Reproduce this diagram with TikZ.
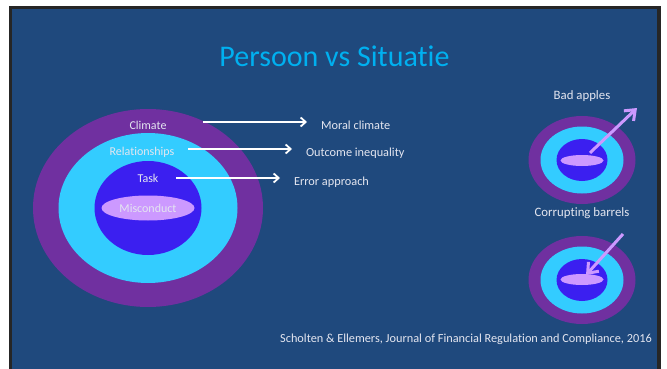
\documentclass[tikz,border=0pt]{standalone}
\usepackage{fontspec}
\setmainfont{Carlito}[Ligatures=NoCommon]
\usetikzlibrary{shapes.geometric,arrows.meta}
\definecolor{slideblue}{RGB}{31,73,125}
\definecolor{titlecyan}{RGB}{0,176,240}
\definecolor{climpurple}{RGB}{112,48,160}
\definecolor{relcyan}{RGB}{51,204,255}
\definecolor{taskblue}{RGB}{59,31,240}
\definecolor{misclav}{RGB}{204,153,255}
\definecolor{labelwhite}{RGB}{228,230,240}

\begin{document}
\begin{tikzpicture}[x=1pt, y=-1pt,
    ring/.style={ellipse, inner sep=0pt},
    lbl/.style={text=labelwhite, font=\fontsize{12}{14}\selectfont},
    note/.style={text=labelwhite, font=\fontsize{12.3}{14}\selectfont},
    whitearrow/.style={-{Straight Barb[length=5pt,width=9pt]}, line width=1.8pt, white},
    lavarrow/.style={-{Straight Barb[length=9pt,width=14pt]}, line width=3pt, misclav}]
    \useasboundingbox (0,0) rectangle (667,369);
    \fill[white] (0,0) rectangle (667,369);
    \fill[black!85] (9,6) rectangle (661,369);
    \fill[slideblue] (12,9) rectangle (657,369);

    \node[text=titlecyan, font=\fontsize{30}{34}\selectfont] (title) at (334.5,56) {Persoon vs Situatie};

    % big circles
    \node[ring, fill=climpurple, minimum width=230, minimum height=198] (climate) at (148,208) {};
    \node[ring, fill=relcyan, minimum width=179, minimum height=150] (rel) at (148,208) {};
    \node[ring, fill=taskblue, minimum width=107, minimum height=94] (task) at (148,208) {};
    \node[ring, fill=misclav, minimum width=93, minimum height=25] (misc) at (148,208) {};
    \node[lbl] (climlbl) at (148,125) {Climate};
    \node[lbl] (rellbl) at (142,152) {Relationships};
    \node[lbl] (tasklbl) at (148,178) {Task};
    \node[lbl] (misclbl) at (148,208) {Misconduct};

    \node[note, anchor=west] (moral) at (317.5,125) {Moral climate};
    \node[note, anchor=west] (outcome) at (302.5,153) {Outcome inequality};
    \node[note, anchor=west] (error) at (290.5,182) {Error approach};
    \coordinate (climstart) at (203,122);
    \coordinate (relstart) at (188,149);
    \coordinate (taskstart) at (176,178);
    \draw[whitearrow, shorten >=10.5pt] (climstart) -- (climstart -| moral.west);
    \draw[whitearrow, shorten >=10.5pt] (relstart) -- (relstart -| outcome.west);
    \draw[whitearrow, shorten >=10.5pt] (taskstart) -- (taskstart -| error.west);

    % bad apples
    \node[note, font=\fontsize{12.8}{14}\selectfont] (applelbl) at (582,96) {Bad apples};
    \node[ring, fill=climpurple, minimum width=107, minimum height=88] (aclim) at (582,160) {};
    \node[ring, fill=relcyan, minimum width=83, minimum height=67] (arel) at (582,160) {};
    \node[ring, fill=taskblue, minimum width=51, minimum height=42] (atask) at (582,160) {};
    \node[ring, fill=misclav, minimum width=43, minimum height=11] (apple) at (582,160.5) {};
    \coordinate (appletip) at (637,108);
    \draw[lavarrow, shorten <=11pt] (apple.center) -- (appletip);

    % corrupting barrels
    \node[note, font=\fontsize{12.8}{14}\selectfont] (barrellbl) at (582,213) {Corrupting barrels};
    \node[ring, fill=climpurple, minimum width=107, minimum height=88] (bclim) at (582,280) {};
    \node[ring, fill=relcyan, minimum width=83, minimum height=67] (brel) at (582,280) {};
    \node[ring, fill=taskblue, minimum width=51, minimum height=42] (btask) at (582,280) {};
    \node[ring, fill=misclav, minimum width=43, minimum height=11] (barrel) at (582,279.5) {};
    \coordinate (barreltail) at (623,234);
    \draw[lavarrow, shorten >=6pt] (barreltail) -- (barrel.center);

    \node[note] (cite) at (466,339) {Scholten \& Ellemers, Journal of Financial Regulation and Compliance, 2016};
\end{tikzpicture}
\end{document}
